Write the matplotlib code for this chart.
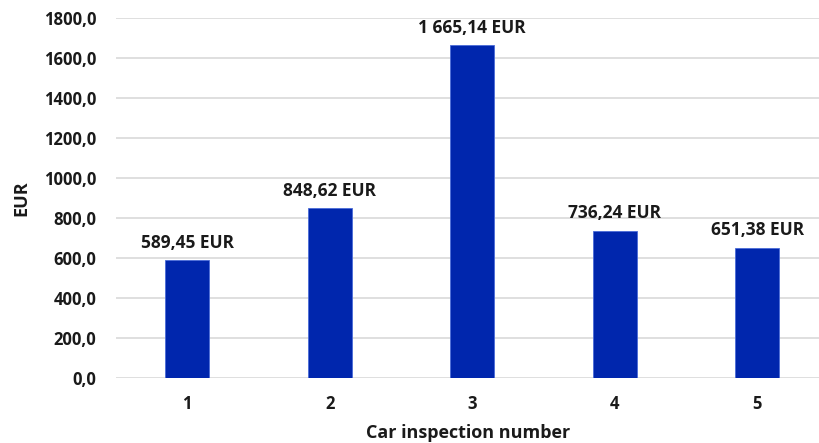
import matplotlib
matplotlib.use("Agg")
import matplotlib.pyplot as plt

categories = ["1", "2", "3", "4", "5"]
values = [589.45, 848.62, 1665.14, 736.24, 651.38]
value_labels = ["589,45 EUR", "848,62 EUR", "1 665,14 EUR", "736,24 EUR", "651,38 EUR"]
yticks = [0, 200, 400, 600, 800, 1000, 1200, 1400, 1600, 1800]
ytick_labels = ["0,0", "200,0", "400,0", "600,0", "800,0", "1000,0", "1200,0", "1400,0", "1600,0", "1800,0"]

plt.rcParams['font.family'] = ['Open Sans', 'DejaVu Sans']

fig = plt.figure(figsize=(8.2, 4.43), dpi=100)
ax = fig.add_axes([116/820, 1-378/443, 1-116/820, (378-18)/443])

x = list(range(1, len(categories)+1))
ax.bar(x, values, width=0.31, color='#0026AD', edgecolor='#4A6BD8', linewidth=0.6, zorder=3)

for xi, v, lab in zip(x, values, value_labels):
    ax.annotate(lab, (xi, v), xytext=(0, 6), textcoords='offset points',
                ha='center', va='bottom', fontsize=12.5, fontweight='bold', color='#1a1a1a')

ax.set_xlim(0.5, 5.44)
ax.set_ylim(0, 1800)
ax.set_yticks(yticks)
ax.set_yticklabels(ytick_labels)
ax.set_xticks(x)
ax.set_xticklabels(categories)
ax.yaxis.grid(True, color='#d9d9d9', linewidth=1.2, zorder=0)
ax.set_axisbelow(True)
for s in ax.spines.values():
    s.set_visible(False)
ax.tick_params(axis='both', length=0, labelsize=12, colors='#1a1a1a')
ax.tick_params(axis='y', pad=14)
ax.tick_params(axis='x', pad=12)
for t in ax.get_xticklabels() + ax.get_yticklabels():
    t.set_fontweight('bold')

ax.set_xlabel("Car inspection number", fontsize=13, fontweight='bold', color='#1a1a1a', labelpad=8)
ax.set_ylabel("EUR", fontsize=13, fontweight='bold', color='#1a1a1a', labelpad=10)

fig.savefig("out.png", dpi=100)
